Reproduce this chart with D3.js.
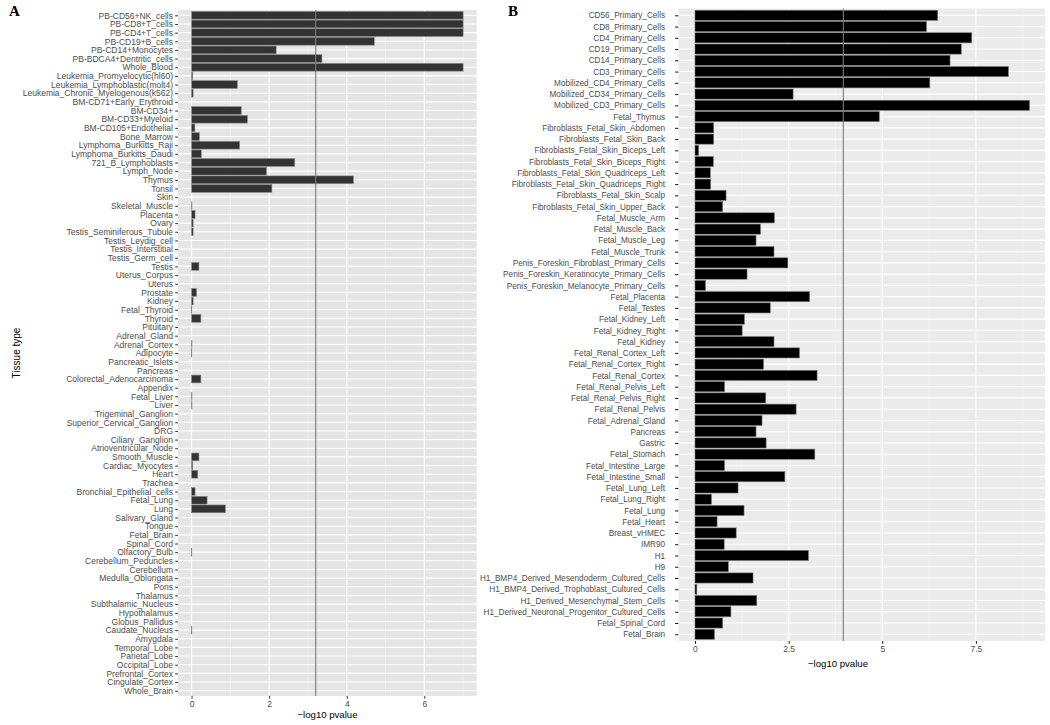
<!DOCTYPE html>
<html><head><meta charset="utf-8">
<script src="https://cdn.jsdelivr.net/npm/d3@7"></script>
<style>
body{margin:0;background:#fff;}
svg{display:block;font-family:"Liberation Sans",Arial,sans-serif;}
</style></head>
<body><svg id="c" width="1050" height="725"></svg>
<script>
const tissuesA = ["PB-CD56+NK_cells","PB-CD8+T_cells","PB-CD4+T_cells","PB-CD19+B_cells","PB-CD14+Monocytes","PB-BDCA4+Dentritic_cells","Whole_Blood","Leukemia_Promyelocytic(hl60)","Leukemia_Lymphoblastic(molt4)","Leukemia_Chronic_Myelogenous(k562)","BM-CD71+Early_Erythroid","BM-CD34+","BM-CD33+Myeloid","BM-CD105+Endothelial","Bone_Marrow","Lymphoma_Burkitts_Raji","Lymphoma_Burkitts_Daudi","721_B_Lymphoblasts","Lymph_Node","Thymus","Tonsil","Skin","Skeletal_Muscle","Placenta","Ovary","Testis_Seminiferous_Tubule","Testis_Leydig_cell","Testis_Interstitial","Testis_Germ_cell","Testis","Uterus_Corpus","Uterus","Prostate","Kidney","Fetal_Thyroid","Thyroid","Pituitary","Adrenal_Gland","Adrenal_Cortex","Adipocyte","Pancreatic_Islets","Pancreas","Colorectal_Adenocarcinoma","Appendix","Fetal_Liver","Liver","Trigeminal_Ganglion","Superior_Cervical_Ganglion","DRG","Ciliary_Ganglion","Atrioventricular_Node","Smooth_Muscle","Cardiac_Myocytes","Heart","Trachea","Bronchial_Epithelial_cells","Fetal_Lung","Lung","Salivary_Gland","Tongue","Fetal_Brain","Spinal_Cord","Olfactory_Bulb","Cerebellum_Peduncles","Cerebellum","Medulla_Oblongata","Pons","Thalamus","Subthalamic_Nucleus","Hypothalamus","Globus_Pallidus","Caudate_Nucleus","Amygdala","Temporal_Lobe","Parietal_Lobe","Occipital_Lobe","Prefrontal_Cortex","Cingulate_Cortex","Whole_Brain"];
const valuesA = [7.0,7.0,7.0,4.71,2.18,3.36,7.0,0.03,1.18,0.04,0,1.28,1.44,0.085,0.2,1.24,0.25,2.66,1.93,4.17,2.07,0,0.01,0.09,0.04,0.04,0,0,0,0.19,0,0,0.13,0.04,0.005,0.24,0,0,0.01,0.005,0,0,0.24,0,0.01,0.01,0,0,0,0,0,0.19,0.03,0.16,0,0.09,0.4,0.87,0,0,0,0,0.005,0,0,0,0,0,0,0,0,0.005,0,0,0,0,0,0,0];
const thresholdA = 3.2;
const ticksA = [0,2,4,6];
const minorA = [1,3,5,7];

const tissuesB = ["CD56_Primary_Cells","CD8_Primary_Cells","CD4_Primary_Cells","CD19_Primary_Cells","CD14_Primary_Cells","CD3_Primary_Cells","Mobilized_CD4_Primary_Cells","Mobilized_CD34_Primary_Cells","Mobilized_CD3_Primary_Cells","Fetal_Thymus","Fibroblasts_Fetal_Skin_Abdomen","Fibroblasts_Fetal_Skin_Back","Fibroblasts_Fetal_Skin_Biceps_Left","Fibroblasts_Fetal_Skin_Biceps_Right","Fibroblasts_Fetal_Skin_Quadriceps_Left","Fibroblasts_Fetal_Skin_Quadriceps_Right","Fibroblasts_Fetal_Skin_Scalp","Fibroblasts_Fetal_Skin_Upper_Back","Fetal_Muscle_Arm","Fetal_Muscle_Back","Fetal_Muscle_Leg","Fetal_Muscle_Trunk","Penis_Foreskin_Fibroblast_Primary_Cells","Penis_Foreskin_Keratinocyte_Primary_Cells","Penis_Foreskin_Melanocyte_Primary_Cells","Fetal_Placenta","Fetal_Testes","Fetal_Kidney_Left","Fetal_Kidney_Right","Fetal_Kidney","Fetal_Renal_Cortex_Left","Fetal_Renal_Cortex_Right","Fetal_Renal_Cortex","Fetal_Renal_Pelvis_Left","Fetal_Renal_Pelvis_Right","Fetal_Renal_Pelvis","Fetal_Adrenal_Gland","Pancreas","Gastric","Fetal_Stomach","Fetal_Intestine_Large","Fetal_Intestine_Small","Fetal_Lung_Left","Fetal_Lung_Right","Fetal_Lung","Fetal_Heart","Breast_vHMEC","IMR90","H1","H9","H1_BMP4_Derived_Mesendoderm_Cultured_Cells","H1_BMP4_Derived_Trophoblast_Cultured_Cells","H1_Derived_Mesenchymal_Stem_Cells","H1_Derived_Neuronal_Progenitor_Cultured_Cells","Fetal_Spinal_Cord","Fetal_Brain"];
const valuesB = [6.48,6.18,7.39,7.11,6.81,8.37,6.27,2.62,8.93,4.92,0.50,0.50,0.10,0.49,0.41,0.42,0.83,0.74,2.12,1.75,1.63,2.11,2.48,1.39,0.28,3.06,2.01,1.32,1.26,2.11,2.79,1.83,3.26,0.79,1.89,2.70,1.79,1.63,1.90,3.20,0.79,2.40,1.15,0.44,1.31,0.59,1.10,0.78,3.03,0.89,1.55,0.05,1.65,0.96,0.74,0.52];
const thresholdB = 3.96;
const ticksB = [0,2.5,5,7.5];
const minorB = [1.25,3.75,6.25,8.75];

const svg = d3.select("#c");

function panel(cfg){
  const g = svg.append("g");
  const x = d3.scaleLinear().domain(cfg.xdom).range([cfg.left, cfg.right]);
  const y = d3.scalePoint().domain(cfg.cats).range([cfg.top, cfg.bottom]).padding(0.6);
  const step = y.step();
  g.append("rect").attr("x",cfg.left).attr("y",cfg.top).attr("width",cfg.right-cfg.left).attr("height",cfg.bottom-cfg.top).attr("fill",cfg.bg);
  g.selectAll(".mn").data(cfg.minor).join("line")
    .attr("x1",d=>x(d)).attr("x2",d=>x(d)).attr("y1",cfg.top).attr("y2",cfg.bottom)
    .attr("stroke","#f5f5f5").attr("stroke-width",0.6);
  g.selectAll(".mj").data(cfg.ticks).join("line")
    .attr("x1",d=>x(d)).attr("x2",d=>x(d)).attr("y1",cfg.top).attr("y2",cfg.bottom)
    .attr("stroke","#fff").attr("stroke-width",1.1);
  g.selectAll(".hg").data(cfg.cats).join("line")
    .attr("x1",cfg.left).attr("x2",cfg.right).attr("y1",d=>y(d)).attr("y2",d=>y(d))
    .attr("stroke","#fff").attr("stroke-width",1.1);
  g.selectAll(".bar").data(cfg.cats.map((c,i)=>({c,v:cfg.vals[i]})).filter(d=>d.v>0)).join("rect")
    .attr("x",x(0)).attr("y",d=>y(d.c)-step*0.45)
    .attr("width",d=>Math.max(0,x(d.v)-x(0))).attr("height",step*0.9)
    .attr("fill",cfg.barFill).attr("stroke",cfg.barStroke).attr("stroke-width",0.6);
  g.append("line").attr("x1",x(cfg.thr)).attr("x2",x(cfg.thr)).attr("y1",cfg.top).attr("y2",cfg.bottom)
    .attr("stroke","#7a7a7a").attr("stroke-width",1.1);
  const ya = g.append("g").attr("transform",`translate(${cfg.left},0)`)
    .call(d3.axisLeft(y).tickSize(cfg.ytick).tickPadding(cfg.ypad));
  ya.select(".domain").remove();
  ya.selectAll("line").attr("stroke",cfg.tickCol).attr("stroke-width",1);
  ya.selectAll("text").attr("fill","#4d4d4d").style("font-size",cfg.fs+"px").attr("font-family",null);
  const xa = g.append("g").attr("transform",`translate(0,${cfg.bottom})`)
    .call(d3.axisBottom(x).tickValues(cfg.ticks).tickFormat(d3.format("~g")).tickSize(2.8).tickPadding(2.5));
  xa.select(".domain").remove();
  xa.selectAll("line").attr("stroke",cfg.tickCol).attr("stroke-width",1);
  xa.selectAll("text").attr("fill","#4d4d4d").style("font-size","8.5px").attr("font-family",null);
  g.append("text").attr("x",cfg.titleX).attr("y",cfg.bottom+cfg.titleDy).attr("text-anchor","middle")
    .style("font-size","9.6px").attr("fill","#000").text("\u2212log10 pvalue");
  g.append("text").attr("x",cfg.letterX).attr("y",16).style("font-family","'Liberation Serif','Times New Roman',serif")
    .style("font-weight","bold").style("font-size","15px").attr("fill","#000").text(cfg.letter);
}

panel({cats:tissuesA, vals:valuesA, xdom:[-0.35,7.35], left:178, right:476.7, top:10.1, bottom:695.9,
  ticks:ticksA, minor:minorA, thr:thresholdA, bg:"#e5e5e5", barFill:"#333333", barStroke:"#8a8a8a",
  ytick:2.8, ypad:2.2, tickCol:"#333", fs:8.5, titleX:327.5, titleDy:22.5, letter:"A", letterX:9});

panel({cats:tissuesB, vals:valuesB, xdom:[-0.445,9.345], left:678.3, right:1045, top:8.55, bottom:641,
  ticks:ticksB, minor:minorB, thr:thresholdB, bg:"#ebebeb", barFill:"#000000", barStroke:"#7a7a7a",
  ytick:3.2, ypad:10, tickCol:"#111", fs:8.2, titleX:838, titleDy:26, letter:"B", letterX:508});

svg.append("text").attr("transform","translate(20,353) rotate(-90)").attr("text-anchor","middle")
  .style("font-size","10px").attr("fill","#000").text("Tissue type");
</script></body></html>
